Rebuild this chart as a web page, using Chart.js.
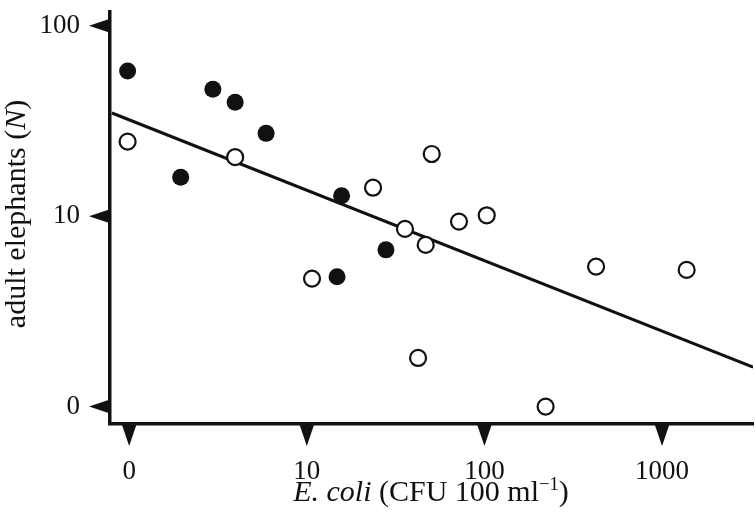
<!DOCTYPE html>
<html>
<head>
<meta charset="utf-8">
<script src="https://cdn.jsdelivr.net/npm/chart.js@4.4.1/dist/chart.umd.min.js"></script>
<style>
    html, body { margin: 0; padding: 0; background: #fff; }
    #wrap { width: 755px; height: 523px; position: relative; }
</style>
</head>
<body>
<div id="wrap"><canvas id="chart"></canvas></div>
<script>
// E. coli (x) vs adult elephants (y); both on log axes, value 1 is labelled "0"
const filledX = [0.98, 1.95, 2.96, 3.95, 5.9, 15.7, 14.8, 27.9]
const filledY = [57.8, 16.0, 46.4, 39.6, 27.2, 12.8, 4.8, 6.65]

const openX = [0.98, 3.95, 10.7, 23.6, 35.7, 46.7, 50.5, 71.9, 103, 42.3, 221, 425, 1375]
const openY = [24.6, 20.4, 4.7, 14.1, 8.57, 7.06, 21.2, 9.36, 10.1, 1.8, 1.0, 5.43, 5.22]

// regression line, read at both ends of the plot
const fitX = [0.80, 3250]
const fitY = [34.8, 1.61]

const xTicks = [1, 10, 100, 1000]
const xTickLabels = ["0", "10", "100", "1000"]
const yTicks = [1, 10, 100]
const yTickLabels = ["0", "10", "100"]

const ink = "#111"
const serif = "'Liberation Serif', 'DejaVu Serif', serif"

const toPoints = (xs, ys) => xs.map((x, i) => ({x, y: ys[i]}))

const triangleTicks = {
    id: "triangleTicks",
    afterDraw(chart){
        const ctx = chart.ctx
        const {x: xs, y: ys} = chart.scales
        const area = chart.chartArea

        ctx.save()
        ctx.fillStyle = ink
        for (let v of xTicks) {
            const px = xs.getPixelForValue(v)
            ctx.beginPath()
            ctx.moveTo(px - 7.5, area.bottom)
            ctx.lineTo(px + 7.5, area.bottom)
            ctx.lineTo(px, area.bottom + 22)
            ctx.closePath()
            ctx.fill()
        }
        for (let v of yTicks) {
            const py = ys.getPixelForValue(v)
            ctx.beginPath()
            ctx.moveTo(area.left, py - 7)
            ctx.lineTo(area.left, py + 7)
            ctx.lineTo(area.left - 21, py)
            ctx.closePath()
            ctx.fill()
        }
        ctx.restore()
    }
}

function drawRich(ctx, parts, size){
    let total = 0
    for (let p of parts) {
        ctx.font = `${p.italic ? "italic " : ""}${p.sup ? size * 0.62 : size}px ${serif}`
        p.w = ctx.measureText(p.t).width
        total += p.w
    }
    let x = -total / 2
    for (let p of parts) {
        ctx.font = `${p.italic ? "italic " : ""}${p.sup ? size * 0.62 : size}px ${serif}`
        ctx.fillText(p.t, x, p.sup ? -size * 0.38 : 0)
        x += p.w
    }
}

const axisTitles = {
    id: "axisTitles",
    afterDraw(chart){
        const ctx = chart.ctx
        ctx.save()
        ctx.fillStyle = ink
        ctx.textAlign = "left"
        ctx.textBaseline = "alphabetic"

        ctx.save()
        ctx.translate(431, 501)
        drawRich(ctx, [
            {t: "E. coli", italic: true},
            {t: " (CFU 100 ml"},
            {t: "\u22121", sup: true},
            {t: ")"}
        ], 30)
        ctx.restore()

        ctx.save()
        ctx.translate(25, 214)
        ctx.rotate(-Math.PI / 2)
        drawRich(ctx, [
            {t: "adult elephants ("},
            {t: "N", italic: true},
            {t: ")"}
        ], 30)
        ctx.restore()

        ctx.restore()
    }
}

new Chart(document.getElementById("chart"), {
    type: "scatter",
    data: {
        datasets: [
            {
                type: "line",
                data: toPoints(fitX, fitY),
                borderColor: ink,
                borderWidth: 3,
                pointRadius: 0,
                fill: false,
                order: 3
            },
            {
                data: toPoints(openX, openY),
                pointRadius: 8,
                pointBorderWidth: 2.2,
                pointBackgroundColor: "#fff",
                pointBorderColor: ink,
                order: 2
            },
            {
                data: toPoints(filledX, filledY),
                pointRadius: 8.5,
                pointBorderWidth: 0,
                pointBackgroundColor: ink,
                pointBorderColor: ink,
                order: 1
            }
        ]
    },
    options: {
        responsive: true,
        maintainAspectRatio: false,
        animation: false,
        layout: {autoPadding: false, padding: {top: 12, right: 2, left: 0, bottom: 0}},
        plugins: {
            legend: {display: false},
            tooltip: {enabled: false}
        },
        scales: {
            x: {
                type: "logarithmic",
                min: 0.78,
                max: 3250,
                afterFit(scale){
                    scale.height = 99
                    scale.paddingLeft = scale.paddingRight = 0
                },
                afterBuildTicks(scale){ scale.ticks = xTicks.map(v => ({value: v})) },
                grid: {display: false, drawTicks: false},
                border: {display: true, color: ink, width: 3.5},
                ticks: {
                    padding: 32,
                    color: ink,
                    font: {family: serif, size: 27},
                    callback: (v) => xTickLabels[xTicks.indexOf(v)]
                }
            },
            y: {
                type: "logarithmic",
                min: 0.81,
                max: 118,
                afterFit(scale){
                    scale.width = 110
                    scale.paddingTop = scale.paddingBottom = 0
                },
                afterBuildTicks(scale){ scale.ticks = yTicks.map(v => ({value: v})) },
                grid: {display: false, drawTicks: false},
                border: {display: true, color: ink, width: 3.5},
                ticks: {
                    padding: 30,
                    color: ink,
                    font: {family: serif, size: 27},
                    callback: (v) => yTickLabels[yTicks.indexOf(v)]
                }
            }
        }
    },
    plugins: [triangleTicks, axisTitles]
})
</script>
</body>
</html>
